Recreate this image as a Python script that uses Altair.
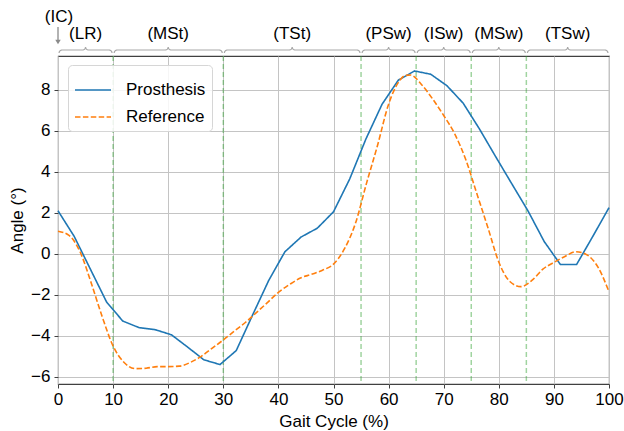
import math
import altair as alt
import pandas as pd

# ---------------- data ----------------
pros_x = [0, 2.94, 5.88, 8.82, 11.76, 14.71, 17.65, 20.59, 23.53, 26.47, 29.41,
          32.35, 35.29, 38.24, 41.18, 44.12, 47.06, 50.0, 52.94, 55.88, 58.82,
          61.76, 64.71, 67.65, 70.59, 73.53, 76.47, 79.41, 82.35, 85.29, 88.24,
          91.18, 94.12, 97.06, 100]
pros_y = [2.1, 0.85, -0.75, -2.35, -3.28, -3.6, -3.7, -3.95, -4.55, -5.17, -5.4,
          -4.72, -3.0, -1.3, 0.1, 0.82, 1.25, 2.05, 3.65, 5.6, 7.3,
          8.47, 8.92, 8.76, 8.2, 7.35, 6.1, 4.75, 3.42, 2.1, 0.6,
          -0.52, -0.52, 0.85, 2.25]

ref_x = [0, 2, 4, 6, 8, 10, 12, 14, 16, 18, 20, 22, 24, 26, 28, 30, 32, 34, 36,
         38, 40, 42, 44, 46, 48, 50, 52, 54, 56, 58, 60, 62, 63, 64, 66, 68, 70,
         72, 74, 76, 78, 80, 82, 84, 86, 88, 90, 92, 94, 96, 98, 100]
ref_y = [1.1, 0.9, 0.1, -1.4, -3.05, -4.5, -5.3, -5.6, -5.58, -5.5, -5.5, -5.48,
         -5.3, -5.0, -4.6, -4.2, -3.77, -3.35, -2.87, -2.38, -1.88, -1.5, -1.18,
         -1.0, -0.8, -0.5, 0.25, 1.5, 3.45, 5.3, 7.3, 8.45, 8.7, 8.72, 8.25, 7.55,
         6.75, 5.85, 4.6, 2.95, 1.3, -0.4, -1.35, -1.6, -1.3, -0.75, -0.42, -0.13,
         0.1, -0.05, -0.65, -1.85]

series_names = ["Prosthesis", "Reference"]
series_colors = ["#1f77b4", "#ff7f0e"]

phase_names = ["(LR)", "(MSt)", "(TSt)", "(PSw)", "(ISw)", "(MSw)", "(TSw)"]
phase_start = [0, 10, 30, 55, 65, 75, 85]
phase_end = [10, 30, 55, 65, 75, 85, 100]
boundaries = [10, 30, 55, 65, 75, 85]
ic_label = "(IC)"
ic_x = [0]

x_ticks = list(range(0, 101, 10))
y_ticks = [-6, -4, -2, 0, 2, 4, 6, 8]

# ---------------- layout helpers ----------------
W, H = 551, 328
Y_MIN, Y_MAX = -6.35, 9.65
PX_X = W / 100.0
PX_Y = H / (Y_MAX - Y_MIN)
FONT = "Liberation Sans"


def above(px):
    """data y value that sits px pixels above the top of the plot area"""
    return Y_MAX + px / PX_Y


# lines
pros_df = pd.DataFrame({"x": pros_x, "y": pros_y, "series": series_names[0]})
ref_df = pd.DataFrame({"x": ref_x, "y": ref_y, "series": series_names[1]})

# brace shapes for the phase annotations
rx = 3.0 / PX_X
ry = 3.0 / PX_Y
y_mid = above(6)
y_low = y_mid - ry
y_top = y_mid + ry
rows = []
for i, (s, e) in enumerate(zip(phase_start, phase_end)):
    a, b = s + 0.2, e - 0.2
    c = (a + b) / 2
    pts = []
    n = 8
    for k in range(n + 1):
        t = math.pi - (math.pi / 2) * k / n
        pts.append((a + rx + rx * math.cos(t), y_low + ry * math.sin(t)))
    for k in range(n + 1):
        t = -math.pi / 2 + (math.pi / 2) * k / n
        pts.append((c - rx + rx * math.cos(t), y_top + ry * math.sin(t)))
    for k in range(n + 1):
        t = math.pi + (math.pi / 2) * k / n
        pts.append((c + rx + rx * math.cos(t), y_top + ry * math.sin(t)))
    for k in range(n + 1):
        t = math.pi / 2 - (math.pi / 2) * k / n
        pts.append((b - rx + rx * math.cos(t), y_low + ry * math.sin(t)))
    for j, (px, py) in enumerate(pts):
        rows.append({"brace": i, "order": j, "x": px, "y": py})
brace_df = pd.DataFrame(rows)

phase_df = pd.DataFrame({"name": phase_names, "start": phase_start, "end": phase_end})
bound_df = pd.DataFrame({"x": boundaries})
ic_df = pd.DataFrame({"x": ic_x, "label": [ic_label]})

# ---------------- chart ----------------
xscale = alt.Scale(domain=[0, 100], nice=False, zero=False)
yscale = alt.Scale(domain=[Y_MIN, Y_MAX], nice=False, zero=False)

x_axis = alt.Axis(values=x_ticks, title="Gait Cycle (%)", titlePadding=6,
                  labelPadding=3, tickSize=4, format="d", labelFlush=False)
y_axis = alt.Axis(values=y_ticks, title="Angle (°)", titlePadding=4,
                  labelPadding=4, tickSize=4, format="d", labelFlush=False)

legend = alt.Legend(title=None, orient="none", legendX=10, legendY=9,
                    symbolType="stroke", symbolSize=1296, symbolStrokeWidth=1.6,
                    labelFontSize=17, labelFont=FONT, labelColor="#000",
                    labelOffset=14, padding=6, rowPadding=-3,
                    fillColor="rgba(255,255,255,0.85)", strokeColor="#d6d6d6",
                    cornerRadius=4)

color = alt.Color("series:N", scale=alt.Scale(domain=series_names, range=series_colors),
                  legend=legend)
dash = alt.StrokeDash("series:N",
                      scale=alt.Scale(domain=series_names, range=[[1, 0], [5.5, 2.4]]),
                      legend=legend)

grid_v = alt.Chart(bound_df).mark_rule(color="#2ca02c", opacity=0.45, strokeWidth=1.5,
                                      strokeDash=[5, 3]).encode(
    x=alt.X("x:Q", scale=xscale, axis=x_axis))

pros_line = alt.Chart(pros_df).mark_line(strokeWidth=1.6).encode(
    x=alt.X("x:Q", scale=xscale, axis=x_axis),
    y=alt.Y("y:Q", scale=yscale, axis=y_axis),
    color=color, strokeDash=dash)

ref_line = alt.Chart(ref_df).mark_line(strokeWidth=1.6, interpolate="monotone").encode(
    x=alt.X("x:Q", scale=xscale),
    y=alt.Y("y:Q", scale=yscale),
    color=color, strokeDash=dash)

braces = alt.Chart(brace_df).mark_line(color="#a8a8a8", strokeWidth=1.2).encode(
    x=alt.X("x:Q", scale=xscale),
    y=alt.Y("y:Q", scale=yscale),
    detail="brace:N",
    order="order:Q")

phase_text = alt.Chart(phase_df).transform_calculate(
    mid="(datum.start + datum.end) / 2", ty=str(above(22.5))
).mark_text(font=FONT, fontSize=17, color="#000", baseline="middle").encode(
    x=alt.X("mid:Q", scale=xscale),
    y=alt.Y("ty:Q", scale=yscale),
    text="name:N")

ic_text = alt.Chart(ic_df).transform_calculate(ty=str(above(39.5))).mark_text(
    font=FONT, fontSize=17, color="#000", baseline="middle", dx=1).encode(
    x=alt.X("x:Q", scale=xscale),
    y=alt.Y("ty:Q", scale=yscale),
    text="label:N")

ic_arrow = alt.Chart(ic_df).transform_calculate(
    y1=str(above(29)), y2=str(above(16))
).mark_rule(color="#8a8a8a", strokeWidth=1.3).encode(
    x=alt.X("x:Q", scale=xscale),
    y=alt.Y("y1:Q", scale=yscale),
    y2="y2:Q")

ic_head = alt.Chart(ic_df).transform_calculate(ty=str(above(14))).mark_point(
    shape="triangle-down", filled=True, size=30, color="#8a8a8a", opacity=1).encode(
    x=alt.X("x:Q", scale=xscale),
    y=alt.Y("ty:Q", scale=yscale))

chart = alt.layer(
    grid_v, pros_line, ref_line, braces, phase_text, ic_text, ic_arrow, ic_head
).properties(
    width=W, height=H,
    padding={"left": 58, "top": 56, "right": 15, "bottom": 47},
    autosize=alt.AutoSizeParams(type="none"),
).configure_view(
    stroke="#404040", strokeWidth=1.1
).configure_axis(
    labelFont=FONT, titleFont=FONT, labelFontSize=17, titleFontSize=17,
    labelColor="#000", titleColor="#000", titleFontWeight="normal",
    grid=True, gridColor="#c4c4c4", gridWidth=1,
    domain=False, tickColor="#404040", tickWidth=1,
)

chart.save("out.html", embed_options={"renderer": "svg", "actions": False})
